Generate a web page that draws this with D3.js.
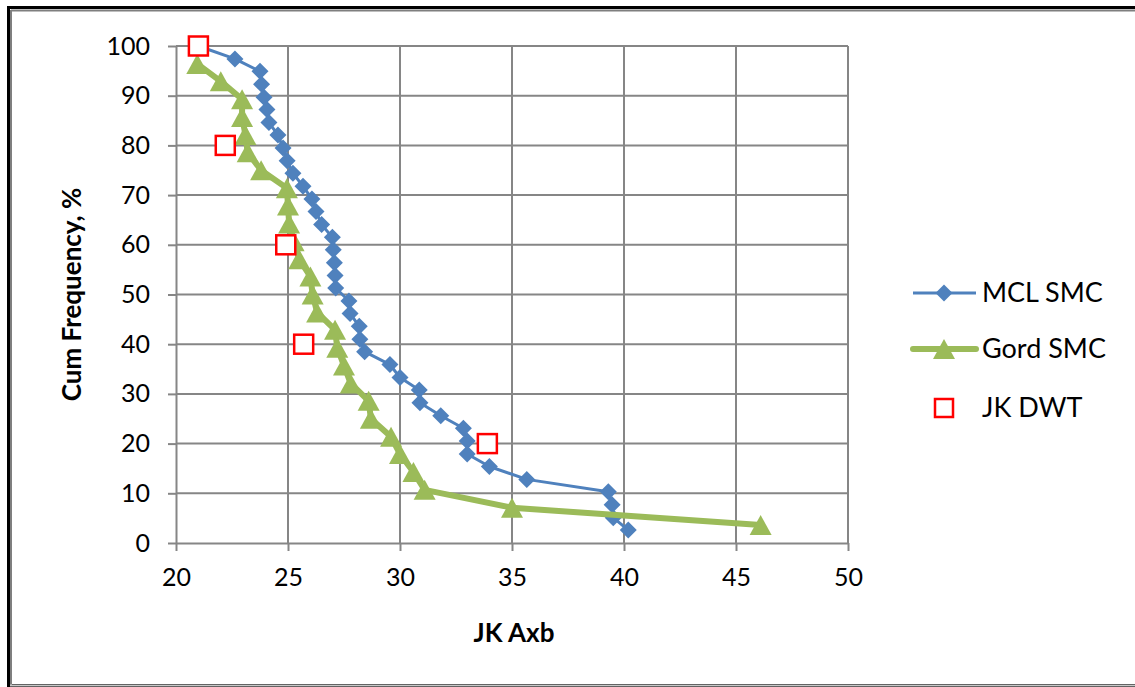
<!DOCTYPE html>
<html>
<head>
<meta charset="utf-8">
<script src="https://cdn.jsdelivr.net/npm/d3@7"></script>
<style>
  body { margin: 0; background: #fff; }
  svg { display: block; font-family: Lato, "Open Sans", sans-serif; }
</style>
</head>
<body>
<script>
// MCL SMC series (JK Axb, cum frequency %)
var mclAxb = [21.0, 22.63, 23.75, 23.82, 23.93, 24.06, 24.15, 24.55, 24.78, 24.96, 25.22, 25.67, 26.07, 26.25,
              26.5, 26.98, 27.02, 27.07, 27.1, 27.13, 27.72, 27.77, 28.18, 28.21, 28.42, 29.55, 30.0,
              30.86, 30.89, 31.82, 32.83, 33.0, 33.0, 33.99, 35.66, 39.3, 39.47, 39.52, 40.19];
var mclFreq = [100, 97.4, 94.9, 92.3, 89.7, 87.2, 84.6, 82.1, 79.5, 76.9, 74.4, 71.8, 69.2, 66.7,
               64.1, 61.5, 59.0, 56.4, 53.8, 51.3, 48.7, 46.2, 43.6, 41.0, 38.5, 35.9, 33.3,
               30.8, 28.2, 25.6, 23.1, 20.5, 17.9, 15.4, 12.8, 10.3, 7.7, 5.1, 2.6];

// Gord SMC series
var gordAxb = [20.95, 22.0, 22.95, 22.95, 23.1, 23.2, 23.8, 24.95, 25.0, 25.05, 25.25, 25.5, 26.0, 26.1,
               26.3, 27.1, 27.2, 27.5, 27.8, 28.6, 28.7, 29.6, 30.0, 30.6, 31.1, 35.0, 46.1];
var gordFreq = [96.4, 92.9, 89.3, 85.7, 82.1, 78.6, 75.0, 71.4, 67.9, 64.3, 60.7, 57.1, 53.6, 50.0,
                46.4, 42.9, 39.3, 35.7, 32.1, 28.6, 25.0, 21.4, 17.9, 14.3, 10.7, 7.1, 3.6];

// JK DWT points
var dwtAxb = [21.0, 22.2, 24.9, 25.7, 33.9];
var dwtFreq = [100, 80, 60, 40, 20];

var xTicks = [20, 25, 30, 35, 40, 45, 50];
var yTicks = [0, 10, 20, 30, 40, 50, 60, 70, 80, 90, 100];
var seriesNames = ["MCL SMC", "Gord SMC", "JK DWT"];

var width = 1135, height = 687;
var blue = "#4F81BD", green = "#9BBB59", red = "#FF0000", grid = "#868686";

var svg = d3.select("body").append("svg")
  .attr("width", width)
  .attr("height", height);

// frame (black top/left, grey inner edge, light bottom)
svg.append("rect").attr("x", 8.5).attr("y", 7.5).attr("width", width + 20).attr("height", 678)
  .attr("fill", "#fff").attr("stroke", "#000").attr("stroke-width", 3);
svg.append("line").attr("x1", 11).attr("x2", width).attr("y1", 10.5).attr("y2", 10.5)
  .attr("stroke", "#7f7f7f").attr("stroke-width", 2);
svg.append("line").attr("x1", 11).attr("x2", 11).attr("y1", 10).attr("y2", 686)
  .attr("stroke", "#7f7f7f").attr("stroke-width", 2);
svg.append("line").attr("x1", 10).attr("x2", width).attr("y1", 685.5).attr("y2", 685.5)
  .attr("stroke", "#c8c8c8").attr("stroke-width", 2);

var x = d3.scaleLinear().domain([20, 50]).range([176, 848]);
var y = d3.scaleLinear().domain([0, 100]).range([543, 46]);

// gridlines
svg.append("g").selectAll("line").data(yTicks.filter(function(d) { return d > 0; })).enter()
  .append("line")
  .attr("x1", x(20)).attr("x2", x(50))
  .attr("y1", function(d) { return y(d); }).attr("y2", function(d) { return y(d); })
  .attr("stroke", grid).attr("stroke-width", 2);
svg.append("g").selectAll("line").data(xTicks.filter(function(d) { return d > 20; })).enter()
  .append("line")
  .attr("y1", y(0)).attr("y2", y(100))
  .attr("x1", function(d) { return x(d); }).attr("x2", function(d) { return x(d); })
  .attr("stroke", grid).attr("stroke-width", 2);

// axes
var xAxis = svg.append("g")
  .attr("transform", "translate(0," + y(0) + ")")
  .call(d3.axisBottom(x).tickValues(xTicks).tickSize(8).tickPadding(17).tickSizeOuter(0));
var yAxis = svg.append("g")
  .attr("transform", "translate(" + x(20) + ",0)")
  .call(d3.axisLeft(y).tickValues(yTicks).tickSize(8).tickPadding(18).tickSizeOuter(0));
[xAxis, yAxis].forEach(function(a) {
  a.select(".domain").attr("stroke", grid).attr("stroke-width", 2);
  a.selectAll(".tick line").attr("stroke", grid).attr("stroke-width", 2);
  a.selectAll(".tick text").attr("fill", "#000").style("font-size", "25px")
    .style("font-family", "Lato, 'Open Sans', sans-serif");
});

// axis titles
svg.append("text").attr("x", 514).attr("y", 642)
  .attr("text-anchor", "middle").style("font-size", "26px").style("font-weight", "bold")
  .text("JK Axb");
svg.append("text")
  .attr("transform", "translate(81," + ((y(0) + y(100)) / 2) + ") rotate(-90)")
  .attr("text-anchor", "middle").style("font-size", "26px").style("font-weight", "bold")
  .text("Cum Frequency, %");

// marker shapes
function diamond(r) { return "M0," + (-r) + "L" + r + ",0L0," + r + "L" + (-r) + ",0Z"; }
function triangle(w, h) { return "M0," + (-h / 2) + "L" + (w / 2) + "," + (h / 2) + "L" + (-w / 2) + "," + (h / 2) + "Z"; }

var line = d3.line()
  .x(function(d) { return x(d[0]); })
  .y(function(d) { return y(d[1]); });

var mcl = d3.zip(mclAxb, mclFreq);
var gord = d3.zip(gordAxb, gordFreq);
var dwt = d3.zip(dwtAxb, dwtFreq);

// MCL SMC
svg.append("path").datum(mcl).attr("d", line)
  .attr("fill", "none").attr("stroke", blue).attr("stroke-width", 3).attr("stroke-linejoin", "round");
svg.append("g").selectAll("path").data(mcl).enter().append("path")
  .attr("d", diamond(8.5))
  .attr("transform", function(d) { return "translate(" + x(d[0]) + "," + y(d[1]) + ")"; })
  .attr("fill", blue);

// Gord SMC
svg.append("path").datum(gord).attr("d", line)
  .attr("fill", "none").attr("stroke", green).attr("stroke-width", 6).attr("stroke-linejoin", "round");
svg.append("g").selectAll("path").data(gord).enter().append("path")
  .attr("d", triangle(22, 20))
  .attr("transform", function(d) { return "translate(" + x(d[0]) + "," + y(d[1]) + ")"; })
  .attr("fill", green);

// JK DWT
svg.append("g").selectAll("rect").data(dwt).enter().append("rect")
  .attr("x", function(d) { return x(d[0]) - 9.5; })
  .attr("y", function(d) { return y(d[1]) - 9.5; })
  .attr("width", 19).attr("height", 19)
  .attr("fill", "#fff").attr("stroke", red).attr("stroke-width", 2.5);

// legend
var legY = [293, 349, 408];
var leg = svg.append("g");
leg.append("line").attr("x1", 913).attr("x2", 976).attr("y1", legY[0]).attr("y2", legY[0])
  .attr("stroke", blue).attr("stroke-width", 3);
leg.append("path").attr("d", diamond(8.5)).attr("transform", "translate(944," + legY[0] + ")").attr("fill", blue);
leg.append("line").attr("x1", 913).attr("x2", 976).attr("y1", legY[1]).attr("y2", legY[1])
  .attr("stroke", green).attr("stroke-width", 6).attr("stroke-linecap", "round");
leg.append("path").attr("d", triangle(22, 20)).attr("transform", "translate(944," + legY[1] + ")").attr("fill", green);
leg.append("rect").attr("x", 935).attr("y", legY[2] - 9).attr("width", 18).attr("height", 18)
  .attr("fill", "#fff").attr("stroke", red).attr("stroke-width", 2.5);
leg.selectAll("text").data(seriesNames).enter().append("text")
  .attr("x", 982).attr("y", function(d, i) { return legY[i]; })
  .attr("dy", "0.35em").style("font-size", "27px").text(function(d) { return d; });
</script>
</body>
</html>
